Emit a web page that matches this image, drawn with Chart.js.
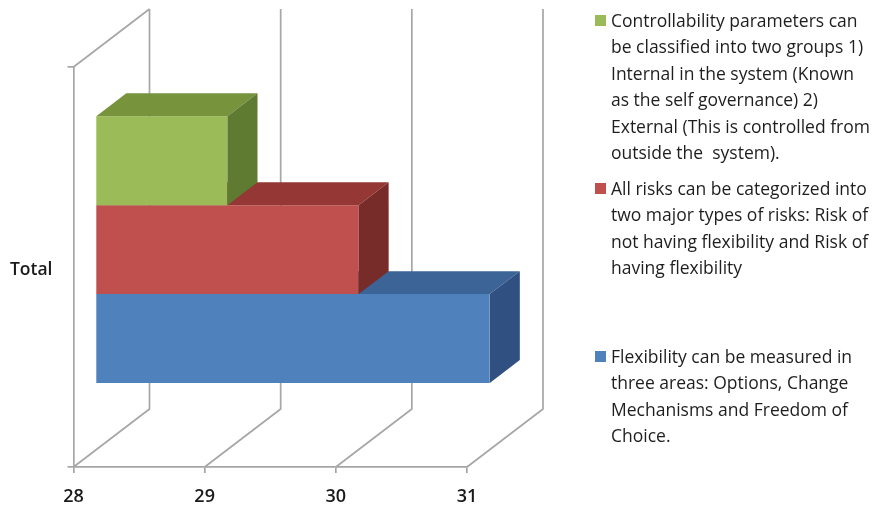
<!DOCTYPE html>
<html>
<head>
<meta charset="utf-8">
<script src="https://cdn.jsdelivr.net/npm/chart.js@4.4.0/dist/chart.umd.min.js"></script>
<style>
html,body{margin:0;padding:0;background:#fff;}
#wrap{position:relative;width:892px;height:507px;overflow:hidden;background:#fff;}
#c{position:absolute;left:0;top:0;}
.leg{position:absolute;left:595px;font-family:"Open Sans",Lato,sans-serif;font-size:17.5px;line-height:26.4px;color:#1e1e1e;}
.leg .sw{position:absolute;left:0;width:11px;height:11px;}
.leg .tx{position:absolute;left:16px;top:0;white-space:pre;}
</style>
</head>
<body>
<div id="wrap"><canvas id="c" width="892" height="507"></canvas><div id="legend"></div></div>
<script>
// ---------- data ----------
const categories = ['Total'];
const tickValues = [28, 29, 30, 31];
const controllabilityValues = [29];
const riskValues = [30];
const flexibilityValues = [31];
const controllabilityLines = ['Controllability parameters can', 'be classified into two groups 1)', 'Internal in the system (Known', 'as the self governance) 2)', 'External (This is controlled from', 'outside the  system).'];
const riskLines = ['All risks can be categorized into', 'two major types of risks: Risk of', 'not having flexibility and Risk of', 'having flexibility'];
const flexibilityLines = ['Flexibility can be measured in', 'three areas: Options, Change', 'Mechanisms and Freedom of', 'Choice.'];

// ---------- style ----------
const GRID = '#a6a6a6';
const TEXT = '#1a1a1a';
const FONT = '"Open Sans", Lato, sans-serif';
const DX = 76, DY = -58;          // wall depth offset
const BAR_FRONT = 0.30, BAR_DEPTH = 0.395;
const legendTops = [7, 175, 343];

const datasets = [
  {label: controllabilityLines.join(' '), lines: controllabilityLines, data: controllabilityValues,
   backgroundColor: '#9bbb59', topColor: '#77933c', sideColor: '#5f7a31'},
  {label: riskLines.join(' '), lines: riskLines, data: riskValues,
   backgroundColor: '#c0504d', topColor: '#953735', sideColor: '#772c2a'},
  {label: flexibilityLines.join(' '), lines: flexibilityLines, data: flexibilityValues,
   backgroundColor: '#4f81bd', topColor: '#3c6497', sideColor: '#2f5080'}
];

const poly = (ctx, pts, color) => {
  ctx.fillStyle = color;
  ctx.beginPath();
  ctx.moveTo(pts[0][0], pts[0][1]);
  for (let i = 1; i < pts.length; i++) ctx.lineTo(pts[i][0], pts[i][1]);
  ctx.closePath();
  ctx.fill();
};

const wall3d = {
  id: 'wall3d',
  beforeDatasetsDraw(chart) {
    const {ctx, chartArea: a, scales: {x}} = chart;
    ctx.save();
    ctx.strokeStyle = GRID;
    ctx.lineWidth = 1.7;
    ctx.beginPath();
    ctx.moveTo(a.left, a.top);
    ctx.lineTo(a.left + DX, a.top + DY);
    tickValues.forEach(v => {
      const px = x.getPixelForValue(v);
      ctx.moveTo(px, a.bottom);
      ctx.lineTo(px + DX, a.bottom + DY);
      ctx.lineTo(px + DX, a.top + DY);
    });
    ctx.stroke();
    ctx.restore();
    ctx.save();
    ctx.translate(DX * BAR_FRONT, DY * BAR_FRONT);
  },
  afterDatasetDraw(chart, args) {
    const ctx = chart.ctx;
    const xs = chart.scales.x;
    const ds = chart.data.datasets[args.index];
    const dx = DX * BAR_DEPTH, dy = DY * BAR_DEPTH;
    const minPx = xs.getPixelForValue(xs.min);
    args.meta.data.forEach(el => {
      const p = el.getProps(['x', 'y', 'base', 'height'], true);
      const base = Math.max(p.base, minPx);
      const x = p.x, t = p.y - p.height / 2, b = p.y + p.height / 2;
      poly(ctx, [[base, t], [base + dx, t + dy], [x + dx, t + dy], [x, t]], ds.topColor);
      poly(ctx, [[x, t], [x + dx, t + dy], [x + dx, b + dy], [x, b]], ds.sideColor);
    });
  },
  afterDatasetsDraw(chart) {
    chart.ctx.restore();
  }
};

function build() {
  Chart.defaults.font.family = FONT;
  const chart = new Chart(document.getElementById('c'), {
    type: 'bar',
    data: {labels: categories, datasets},
    options: {
      indexAxis: 'y',
      responsive: false,
      animation: false,
      events: [],
      layout: {padding: {top: 67, right: 425, left: 0, bottom: 0}},
      datasets: {bar: {categoryPercentage: 0.667, barPercentage: 1, borderWidth: 0}},
      plugins: {legend: {display: false}, tooltip: {enabled: false}},
      scales: {
        x: {
          type: 'linear', min: 28, max: 31,
          afterBuildTicks: s => { s.ticks = tickValues.map(v => ({value: v})); },
          ticks: {color: TEXT, font: {size: 18, weight: '600'}, padding: 13},
          grid: {drawOnChartArea: false, drawTicks: true, tickLength: 6, color: GRID, lineWidth: 1.7},
          border: {display: true, color: GRID, width: 1.7},
          afterFit: s => { s.height = 40; }
        },
        y: {
          type: 'category',
          ticks: {color: TEXT, font: {size: 17.5, weight: '600'}, padding: 15, labelOffset: 3},
          grid: {drawOnChartArea: false, drawTicks: true, tickLength: 6, color: GRID, lineWidth: 1.7, offset: true},
          border: {display: true, color: GRID, width: 1.7},
          afterFit: s => { s.width = 73.5; }
        }
      }
    },
    plugins: [wall3d]
  });

  const leg = document.getElementById('legend');
  chart.data.datasets.forEach((ds, i) => {
    const d = document.createElement('div');
    d.className = 'leg';
    d.style.top = legendTops[i] + 'px';
    const sw = document.createElement('div');
    sw.className = 'sw';
    sw.style.background = ds.backgroundColor;
    sw.style.top = '7.5px';
    const tx = document.createElement('div');
    tx.className = 'tx';
    tx.textContent = ds.lines.join('\n');
    d.appendChild(sw);
    d.appendChild(tx);
    leg.appendChild(d);
  });
}

if (document.fonts && document.fonts.load) {
  Promise.all([document.fonts.load('17px "Open Sans"'), document.fonts.load('600 18px "Open Sans"'), document.fonts.load('17.5px "Open Sans"')]).then(build, build);
} else {
  build();
}
</script>
</body>
</html>
